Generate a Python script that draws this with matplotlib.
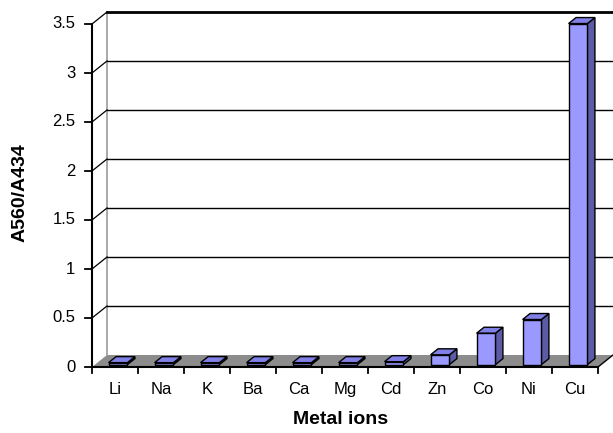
import matplotlib
matplotlib.use("Agg")
import matplotlib.pyplot as plt
from matplotlib.patches import Polygon

plt.rcParams['font.family'] = ['Liberation Sans', 'DejaVu Sans']

# Data
metals = ["Li", "Na", "K", "Ba", "Ca", "Mg", "Cd", "Zn", "Co", "Ni", "Cu"]
ratio = [0.02, 0.02, 0.02, 0.02, 0.02, 0.02, 0.03, 0.10, 0.32, 0.46, 3.48]
yticks = [0, 0.5, 1, 1.5, 2, 2.5, 3, 3.5]

fig = plt.figure(figsize=(6.13, 4.33), dpi=100)
ax = fig.add_axes([92 / 613, 66 / 433, 506 / 613, 343 / 433])
n = len(metals)
ymax = 3.5
ax.set_xlim(0, n)
ax.set_ylim(0, ymax)
ax.axis("off")

# pseudo-3D depth offsets (in data units)
dx, dy = 0.326, 0.1224

# floor
ax.add_patch(Polygon([(0, 0), (n, 0), (n + dx, dy), (dx, dy)], closed=True,
                     facecolor="#8c8c8c", edgecolor="none", clip_on=False, zorder=1))
ax.plot([n, n + dx], [0, dy], color="black", lw=1.0, clip_on=False, zorder=2)

# back wall: left edge and gridlines
ax.plot([dx, dx], [dy, ymax + dy], color="#9a9a9a", lw=1.2, clip_on=False, zorder=2)
for v in yticks[1:]:
    lw = 2.0 if v == ymax else 1.0
    ax.plot([dx, n + dx], [v + dy, v + dy], color="black", lw=lw, clip_on=False, zorder=2)
    ax.plot([0, dx], [v, v + dy], color="black", lw=0.9, clip_on=False, zorder=2)

# front value axis
ax.plot([0, 0], [0, ymax], color="black", lw=1.5, clip_on=False, zorder=5)
for v in yticks:
    ax.plot([-0.15, 0], [v, v], color="black", lw=1.3, clip_on=False, zorder=5)
    ax.text(-0.36, v, f"{v:g}", ha="right", va="center", fontsize=12, zorder=5)

# front category axis
ax.plot([0, n], [0, 0], color="black", lw=1.5, clip_on=False, zorder=5)
for i in range(n + 1):
    ax.plot([i, i], [0, -0.06], color="black", lw=1.3, clip_on=False, zorder=5)
for i, m in enumerate(metals):
    ax.text(i + 0.5, -0.15, m, ha="center", va="top", fontsize=12, zorder=5)

# bars
f0, f1 = 0.2, 0.7
bw = 0.41
front_c, top_c, side_c = "#9999ff", "#8080e6", "#5c5ca6"
for i, v in enumerate(ratio):
    x0 = i + 0.5 - bw / 2 + f0 * dx
    x1 = x0 + bw
    y0 = f0 * dy
    ddx = (f1 - f0) * dx
    ddy = (f1 - f0) * dy
    front = [(x0, y0), (x1, y0), (x1, y0 + v), (x0, y0 + v)]
    side = [(x1, y0), (x1 + ddx, y0 + ddy), (x1 + ddx, y0 + v + ddy), (x1, y0 + v)]
    top = [(x0, y0 + v), (x1, y0 + v), (x1 + ddx, y0 + v + ddy), (x0 + ddx, y0 + v + ddy)]
    for pts, c in ((side, side_c), (top, top_c), (front, front_c)):
        ax.add_patch(Polygon(pts, closed=True, facecolor=c, edgecolor="black",
                             lw=1.0, clip_on=False, zorder=4))

fig.text(341 / 613, 1 - 420 / 433, "Metal ions", ha="center", va="center",
         fontsize=14, fontweight="bold")
fig.text(20 / 613, 1 - 193 / 433, "A560/A434", ha="center", va="center",
         rotation=90, fontsize=14, fontweight="bold")

fig.savefig("out.png", dpi=100)
